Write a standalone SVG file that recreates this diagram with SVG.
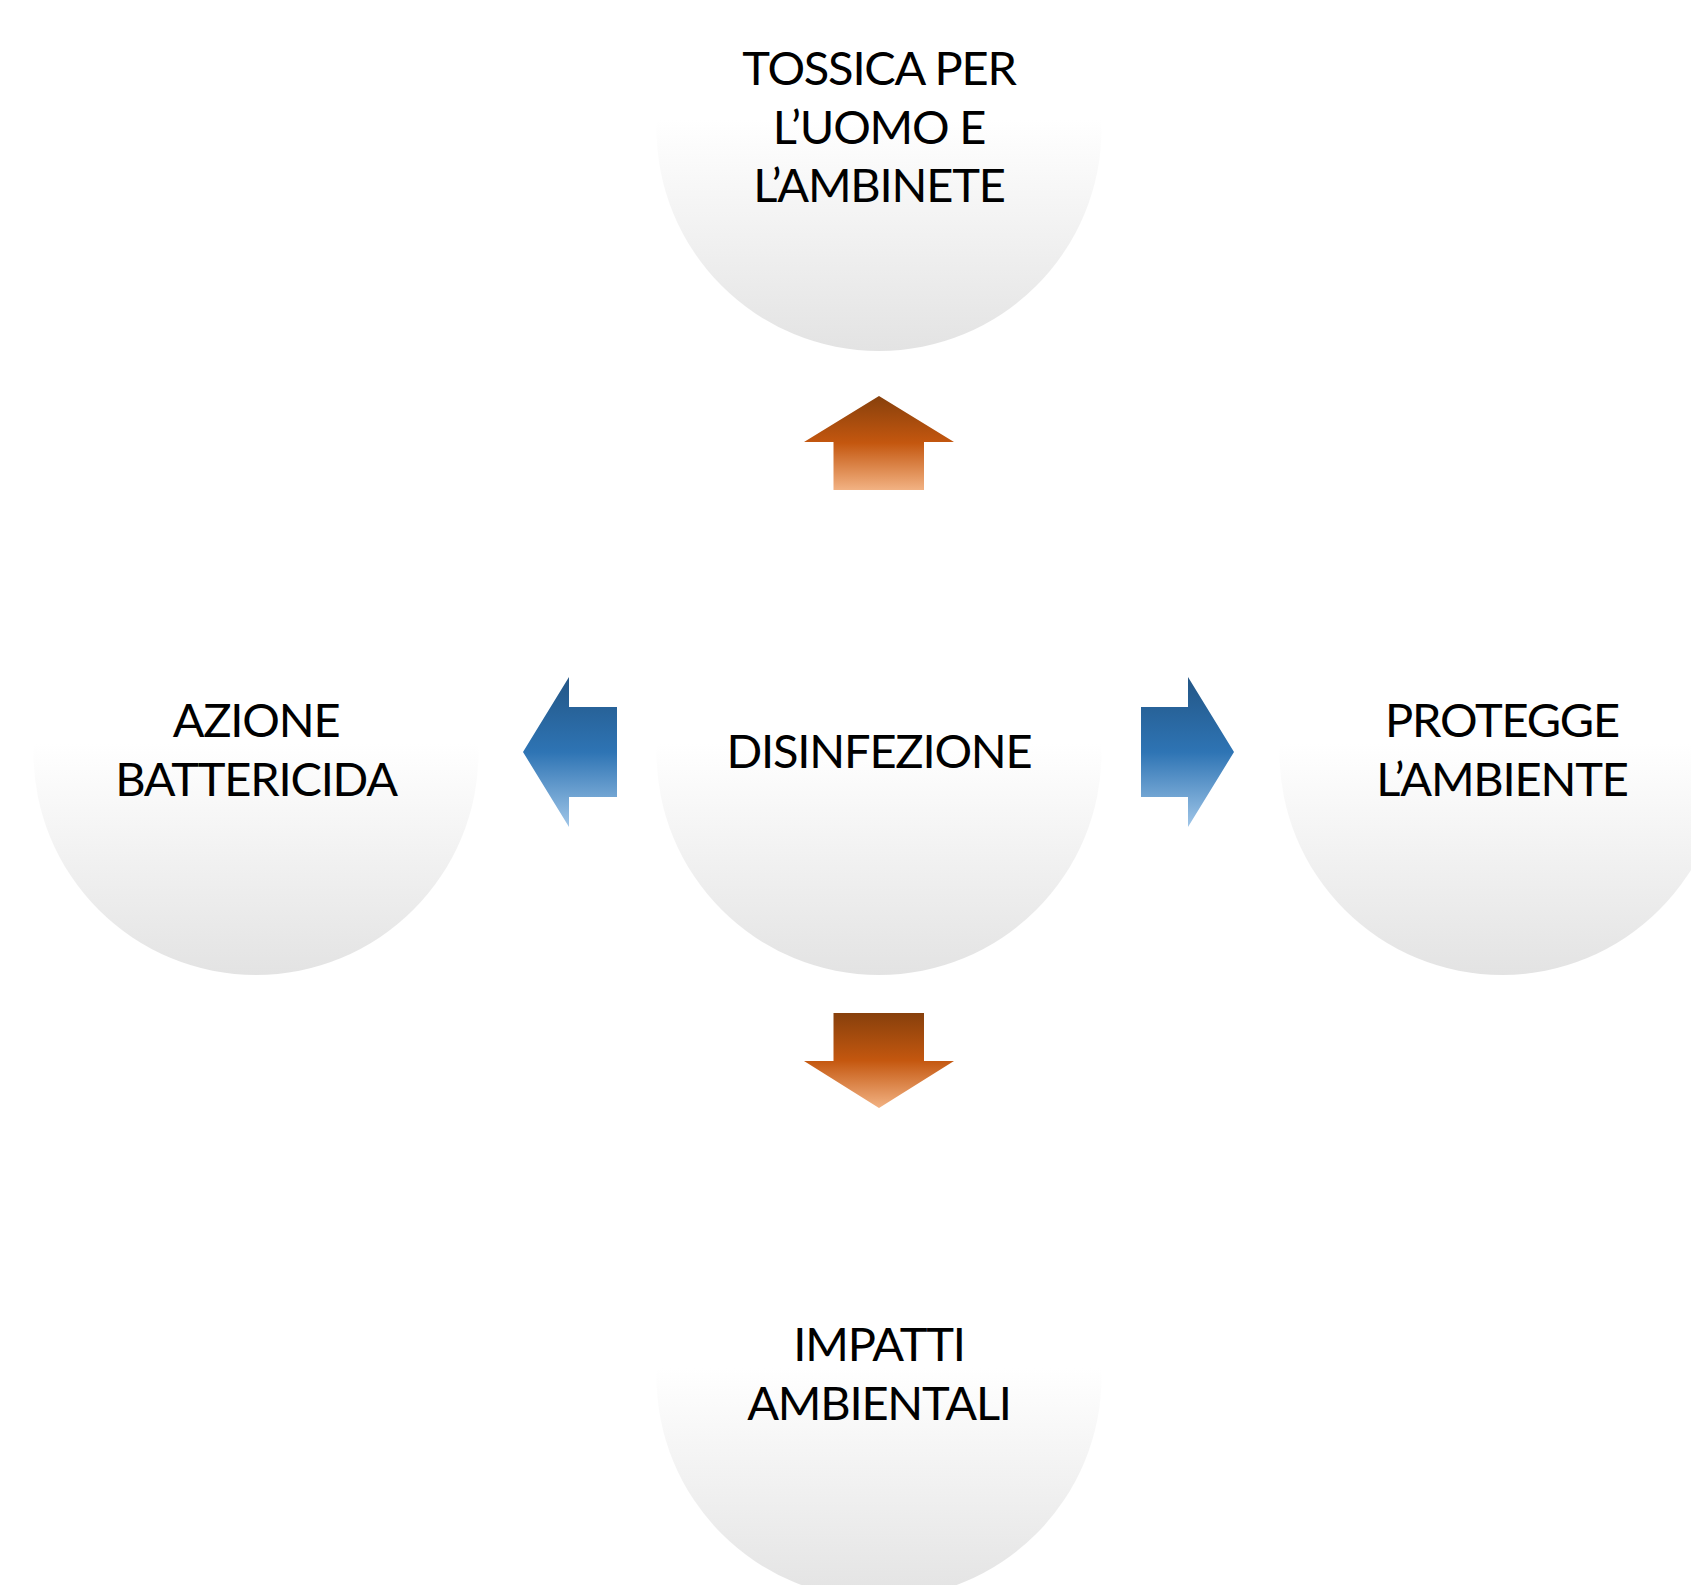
<svg xmlns="http://www.w3.org/2000/svg" width="1691" height="1585" viewBox="0 0 1691 1585">
<defs>
<linearGradient id="cg" x1="0" y1="0" x2="0" y2="1">
<stop offset="0" stop-color="#ffffff"/>
<stop offset="0.48" stop-color="#ffffff"/>
<stop offset="1" stop-color="#e3e3e3"/>
</linearGradient>
<linearGradient id="og" x1="0" y1="0" x2="0" y2="1">
<stop offset="0" stop-color="#87400c"/>
<stop offset="0.5" stop-color="#c4570f"/>
<stop offset="1" stop-color="#f2b283"/>
</linearGradient>
<linearGradient id="bg" x1="0" y1="0" x2="0" y2="1">
<stop offset="0" stop-color="#235686"/>
<stop offset="0.5" stop-color="#2e74b4"/>
<stop offset="1" stop-color="#a0c6e8"/>
</linearGradient>
<style>
.c{fill:url(#cg)}
.t{font-family:Lato,"Liberation Sans",sans-serif;font-size:47px;letter-spacing:-1.2px;fill:#000;text-anchor:middle}
</style>
</defs>
<rect width="1691" height="1585" fill="#fff"/>
<g id="node-top"><circle class="c" cx="879" cy="128.5" r="222.5"/><text class="t" x="879"><tspan x="879" y="85">TOSSICA PER</tspan><tspan x="879" y="143.5">L’UOMO E</tspan><tspan x="879" y="202">L’AMBINETE</tspan></text></g>
<g id="node-left"><circle class="c" cx="256" cy="752.5" r="222.5"/><text class="t"><tspan x="256" y="737">AZIONE</tspan><tspan x="256" y="796">BATTERICIDA</tspan></text></g>
<g id="node-center"><circle class="c" cx="879" cy="752.5" r="222.5"/><text class="t" x="879" y="768">DISINFEZIONE</text></g>
<g id="node-right"><circle class="c" cx="1502" cy="752.5" r="222.5"/><text class="t"><tspan x="1502" y="737">PROTEGGE</tspan><tspan x="1502" y="796">L’AMBIENTE</tspan></text></g>
<g id="node-bottom"><circle class="c" cx="879" cy="1376.5" r="222.5"/><text class="t"><tspan x="879" y="1361">IMPATTI</tspan><tspan x="879" y="1420">AMBIENTALI</tspan></text></g>
<g id="connectors">
<polygon fill="url(#og)" points="879,396 954,442 924,442 924,490 833.5,490 833.5,442 804,442"/>
<polygon fill="url(#og)" points="833.5,1013 924,1013 924,1061 954,1061 879,1108 804,1061 833.5,1061"/>
<polygon fill="url(#bg)" points="523,752 569,677 569,707 617,707 617,797 569,797 569,827"/>
<polygon fill="url(#bg)" points="1141,707 1188,707 1188,677 1234,752 1188,827 1188,797 1141,797"/>
</g>
</svg>
